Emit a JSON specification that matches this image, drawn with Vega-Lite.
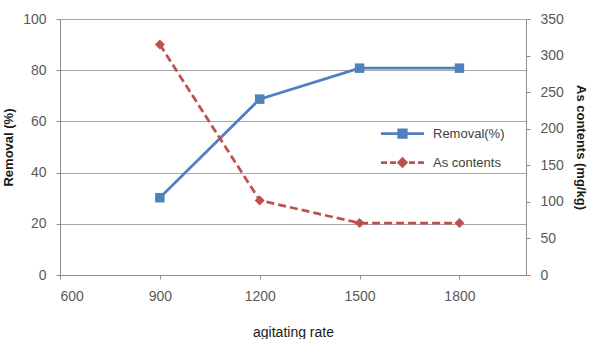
{
  "$schema": "https://vega.github.io/schema/vega-lite/v6.json",
  "width": 466,
  "height": 256,
  "autosize": {"type": "none"},
  "padding": {"left": 60, "top": 19, "right": 64, "bottom": 64},
  "background": "white",
  "config": {
    "font": "Liberation Sans",
    "view": {"stroke": null},
    "axis": {
      "domainColor": "#8c8c8c",
      "tickColor": "#8c8c8c",
      "gridColor": "#a6a6a6",
      "gridWidth": 1,
      "tickSize": 4,
      "labelFont": "Liberation Sans",
      "labelFontSize": 14,
      "labelColor": "#595959",
      "titleFont": "Liberation Sans",
      "titleColor": "#1a1a1a",
      "titleFontSize": 13
    },
    "legend": {
      "orient": "none",
      "legendX": 336,
      "legendY": 108,
      "padding": 0,
      "labelFont": "Liberation Sans",
      "labelFontSize": 13,
      "labelColor": "#404040",
      "labelOffset": 24,
      "rowPadding": 10,
      "symbolStrokeWidth": 2.75,
      "title": null
    }
  },
  "datasets": {
    "agitation": [
      {"rate": 900, "removal": 30.2, "as_content": 315},
      {"rate": 1200, "removal": 68.7, "as_content": 102},
      {"rate": 1500, "removal": 80.8, "as_content": 71},
      {"rate": 1800, "removal": 80.8, "as_content": 71}
    ]
  },
  "layer": [
    {
      "data": {"name": "agitation"},
      "encoding": {
        "x": {
          "field": "rate",
          "type": "quantitative",
          "scale": {"domain": [600, 2000], "nice": false, "zero": false},
          "axis": {
            "values": [600, 900, 1200, 1500, 1800],
            "format": "d",
            "grid": false,
            "labelPadding": 10,
            "title": "agitating rate",
            "titleFontWeight": "normal",
            "titleFontSize": 14,
            "titleX": 233,
            "titleY": 57,
            "titleAlign": "center",
            "titleBaseline": "middle"
          }
        },
        "y": {
          "field": "removal",
          "type": "quantitative",
          "scale": {"domain": [0, 100], "nice": false},
          "axis": {
            "orient": "left",
            "values": [0, 20, 40, 60, 80, 100],
            "grid": true,
            "labelPadding": 10,
            "title": "Removal (%)",
            "titleFontWeight": "bold",
            "titleAngle": -90,
            "titleX": -52,
            "titleY": 128,
            "titleAlign": "center",
            "titleBaseline": "middle"
          }
        }
      },
      "layer": [
        {"mark": {"type": "line", "color": "#4F81BD", "strokeWidth": 2.75}},
        {"mark": {"type": "point", "shape": "square", "filled": true, "opacity": 1, "size": 90, "color": "#4F81BD"}}
      ]
    },
    {
      "data": {"name": "agitation"},
      "encoding": {
        "x": {"field": "rate", "type": "quantitative"},
        "y": {
          "field": "as_content",
          "type": "quantitative",
          "scale": {"domain": [0, 350], "nice": false},
          "axis": {
            "orient": "right",
            "values": [0, 50, 100, 150, 200, 250, 300, 350],
            "grid": false,
            "labelPadding": 10,
            "title": "As contents (mg/kg)",
            "titleFontWeight": "bold",
            "titleAngle": 90,
            "titleX": 54,
            "titleY": 128,
            "titleAlign": "center",
            "titleBaseline": "middle"
          }
        }
      },
      "layer": [
        {"mark": {"type": "line", "color": "#C0504D", "strokeWidth": 2.75, "strokeDash": [8, 4]}},
        {"mark": {"type": "point", "shape": "diamond", "filled": true, "opacity": 1, "size": 100, "color": "#C0504D"}}
      ]
    },
    {
      "data": {"values": [{"series": "Removal(%)"}, {"series": "As contents"}]},
      "transform": [{"filter": "false"}],
      "mark": {"type": "point", "filled": false, "size": 100, "strokeWidth": 2.75, "opacity": 1},
      "encoding": {
        "shape": {
          "field": "series",
          "type": "nominal",
          "scale": {
            "domain": ["Removal(%)", "As contents"],
            "range": [
              "M-4.3,0H4.3M-0.75,-0.75H0.75V0.75H-0.75Z",
              "M-4.3,0H-3.1M-2.5,0H-1.3M1.3,0H2.5M3.1,0H4.3M0,-0.75L0.75,0L0,0.75L-0.75,0Z"
            ]
          }
        },
        "stroke": {
          "field": "series",
          "type": "nominal",
          "scale": {"domain": ["Removal(%)", "As contents"], "range": ["#4F81BD", "#C0504D"]}
        },
        "fill": {
          "field": "series",
          "type": "nominal",
          "scale": {"domain": ["Removal(%)", "As contents"], "range": ["#4F81BD", "#C0504D"]}
        }
      }
    }
  ],
  "resolve": {"scale": {"y": "independent"}}
}
